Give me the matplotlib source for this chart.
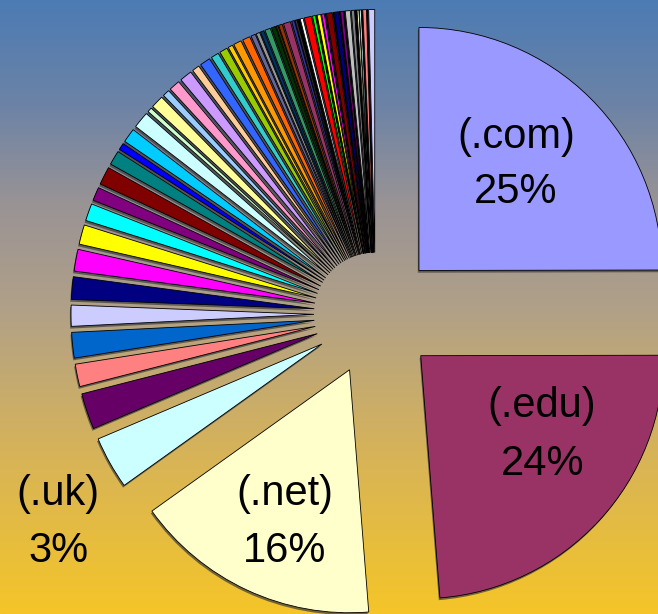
import numpy as np
import matplotlib
matplotlib.use("Agg")
import matplotlib.pyplot as plt
import matplotlib.patches as mpatches

# ---------------- data ----------------
named_labels = ["(.com)", "(.edu)", "(.net)", "(.uk)"]
named_pcts = ["25%", "24%", "16%", "3%"]

big_values = [25.0, 23.8, 16.4, 3.5]
small_values_a = [2.4, 1.5, 1.7, 1.4, 1.5, 1.45, 1.3, 1.15, 0.9, 1.2,
                  0.95, 0.45, 0.95, 1.1, 0.3, 0.85]
small_values_b = [0.46, 0.73, 0.82, 0.49, 0.70, 0.52, 0.53, 0.30, 0.53,
                  0.50, 0.30, 0.24, 0.24]
small_values_c = [0.37, 0.28, 0.13, 0.24, 0.47, 0.19, 0.14, 0.14, 0.19,
                  0.47, 0.19, 0.05, 0.24, 0.19, 0.05, 0.38, 0.05, 0.28,
                  0.05, 0.19, 0.05, 0.33, 0.21, 0.05, 0.05, 0.12, 0.12,
                  0.05, 0.24, 0.05, 0.40]
values = big_values + small_values_a + small_values_b + small_values_c

# Excel 56-colour palette (index 1..56)
palette = ["#000000", "#FFFFFF", "#FF0000", "#00FF00", "#0000FF", "#FFFF00",
           "#FF00FF", "#00FFFF", "#800000", "#008000", "#000080", "#808000",
           "#800080", "#008080", "#C0C0C0", "#808080", "#9999FF", "#993366",
           "#FFFFCC", "#CCFFFF", "#660066", "#FF8080", "#0066CC", "#CCCCFF",
           "#000080", "#FF00FF", "#FFFF00", "#00FFFF", "#800080", "#800000",
           "#008080", "#0000FF", "#00CCFF", "#CCFFFF", "#CCFFCC", "#FFFF99",
           "#99CCFF", "#FF99CC", "#CC99FF", "#FFCC99", "#3366FF", "#33CCCC",
           "#99CC00", "#FFCC00", "#FF9900", "#FF6600", "#666699", "#969696",
           "#003366", "#339966", "#003300", "#333300", "#993300", "#993366",
           "#333399", "#333333"]

# ---------------- layout ----------------
W, H = 658, 614
CX, CY = 375.5, 314.0        # pie centre in pixels
R = 243.0                    # radius in pixels
EXPLODE = 61.5               # explode distance in pixels

slice_colors = [palette[(16 + i) % 56] for i in range(len(values))]

fig = plt.figure(figsize=(W / 100, H / 100), dpi=100)

# background gradient
bg = fig.add_axes([0, 0, 1, 1], zorder=0)
stops_pos = [0.0, 0.17, 0.33, 0.5, 0.72, 1.0]
stops_col = np.array([(76, 123, 180), (108, 131, 166), (153, 147, 149),
                      (176, 160, 136), (212, 178, 92), (245, 197, 40)]) / 255.0
t = np.linspace(0, 1, H)
grad = np.stack([np.interp(t, stops_pos, stops_col[:, k]) for k in range(3)], axis=-1)
bg.imshow(grad[:, None, :], aspect="auto", extent=[0, 1, 0, 1], interpolation="bilinear")
bg.set_axis_off()

ax = fig.add_axes([0, 0, 1, 1], zorder=1)
ax.patch.set_alpha(0)

wedges, _ = ax.pie(values, colors=slice_colors, startangle=90, counterclock=False,
                   radius=R, center=(0, 0), explode=[EXPLODE] * len(values),
                   wedgeprops=dict(edgecolor="black", linewidth=0.6))

for w in wedges:
    w.set_zorder(3)
    sh = mpatches.Shadow(w, -0.8, -1.6, facecolor="#3c3c3c", edgecolor="none", alpha=0.7)
    sh.set_zorder(2)
    ax.add_patch(sh)

ax.set_xlim(-CX, W - CX)
ax.set_ylim(CY - H, CY)
ax.set_aspect("auto")
ax.set_axis_off()

# label positions (pixel coords: centre x, baseline y for each line)
label_lines = [((516.0, 147.6), (515.5, 203.3)),
               ((542.0, 417.0), (543.0, 475.0)),
               ((285.0, 505.0), (285.0, 561.7)),
               ((58.3, 505.0), (58.3, 561.7))]

for name, pct, (p1, p2) in zip(named_labels, named_pcts, label_lines):
    for txt, (px, py) in ((name, p1), (pct, p2)):
        ax.text(px - CX, CY - py, txt, ha="center", va="baseline",
                fontsize=30, family="Liberation Sans", color="black", zorder=5)

fig.savefig("out.png", dpi=100)
